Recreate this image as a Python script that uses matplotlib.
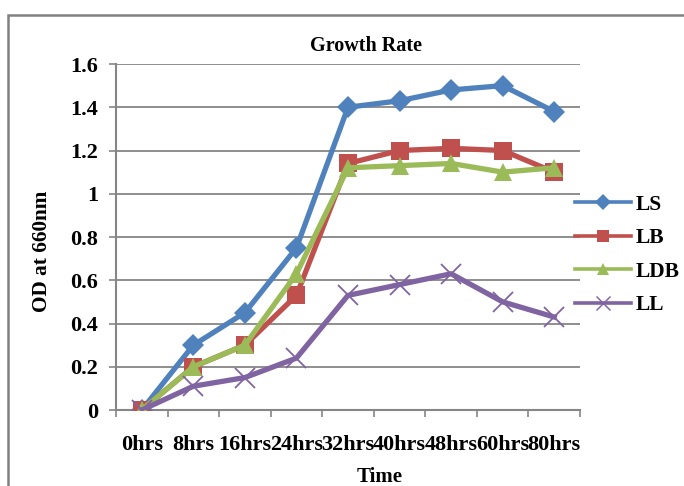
import matplotlib
matplotlib.use("Agg")
import matplotlib.pyplot as plt
from matplotlib.patches import Rectangle
from matplotlib.lines import Line2D

categories = ["0hrs", "8hrs", "16hrs", "24hrs", "32hrs", "40hrs", "48hrs", "60hrs", "80hrs"]
LS = [0, 0.30, 0.45, 0.75, 1.40, 1.43, 1.48, 1.50, 1.38]
LB = [0, 0.20, 0.30, 0.53, 1.14, 1.20, 1.21, 1.20, 1.10]
LDB = [0, 0.20, 0.30, 0.63, 1.12, 1.13, 1.14, 1.10, 1.12]
LL = [0, 0.11, 0.15, 0.24, 0.53, 0.58, 0.63, 0.50, 0.43]
yticks = [0, 0.2, 0.4, 0.6, 0.8, 1, 1.2, 1.4, 1.6]
ytick_labels = ["0", "0.2", "0.4", "0.6", "0.8", "1", "1.2", "1.4", "1.6"]

plt.rcParams['font.family'] = ['Liberation Serif', 'DejaVu Serif']
plt.rcParams['font.weight'] = 'bold'

W, H = 684, 486
fig = plt.figure(figsize=(W/100, H/100), dpi=100)
fig.patches.append(Rectangle((8/W, -0.1), 1.2, 1.1 - 15/H, transform=fig.transFigure,
                             fill=False, edgecolor='#808080', linewidth=1.8))

ax = fig.add_axes([116/W, 1-410/H, (580-116)/W, (410-64)/H])
x = list(range(len(categories)))

series = [
    ("LS", LS, '#4F81BD', 'D', 11),
    ("LB", LB, '#C0504D', 's', 13),
    ("LDB", LDB, '#9BBB59', '^', 13),
    ("LL", LL, '#8064A2', 'x', 14),
]
handles = []
for name, vals, col, mk, ms in series:
    mew = 1.3 if mk == 'x' else 0
    ax.plot(x, vals, color=col, linewidth=3.8, marker=mk, markersize=ms,
            markerfacecolor=col, markeredgecolor=col, markeredgewidth=mew, zorder=3)
    handles.append(Line2D([], [], color=col, linewidth=2.6, marker=mk, markersize=ms * 0.7,
                          markerfacecolor=col, markeredgecolor=col, markeredgewidth=mew * 0.8,
                          label=name))

ax.set_xlim(-0.5, len(categories) - 0.5)
ax.set_ylim(0, 1.6)
ax.set_yticks(yticks)
ax.set_yticklabels(ytick_labels, fontsize=16, fontweight='bold')
ax.set_xticks([i - 0.5 for i in range(len(categories) + 1)])
ax.set_xticklabels([])
ax.set_xticks(x, minor=True)
ax.set_xticklabels(categories, minor=True, fontsize=16, fontweight='bold')
ax.tick_params(axis='x', which='minor', length=0, pad=18)
ax.tick_params(axis='x', which='major', length=5, width=1.2, color='#868686', direction='out')
ax.tick_params(axis='y', length=5, width=1.2, color='#868686', direction='out', pad=8)
ax.grid(axis='y', color='#868686', linewidth=1.3)
ax.set_axisbelow(True)
for s in ['top', 'right']:
    ax.spines[s].set_visible(False)
for s in ['left', 'bottom']:
    ax.spines[s].set_color('#868686')
    ax.spines[s].set_linewidth(1.5)

fig.text(366/W, 1-46/H, "Growth Rate", fontsize=14.5, fontweight='bold', ha='center', va='center')
fig.text(42/W, 1-251/H, "OD at 660nm", rotation=90, fontsize=15.3, fontweight='bold',
         ha='center', va='center')
fig.text(380/W, 1-477/H, "Time", fontsize=15, fontweight='bold', ha='center', va='center')

leg = ax.legend(handles=handles, loc='center left', bbox_to_anchor=(575/W, 1-255/H),
                bbox_transform=fig.transFigure, frameon=False,
                prop={'size': 15.5, 'weight': 'bold'}, handlelength=2.6,
                handletextpad=0.2, labelspacing=0.62, borderaxespad=0, borderpad=0)

fig.savefig("out.png", dpi=100)
